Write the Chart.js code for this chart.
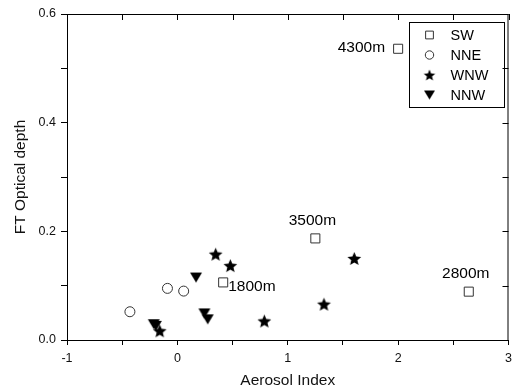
<!DOCTYPE html>
<html>
<head>
<meta charset="utf-8">
<script src="https://cdn.jsdelivr.net/npm/chart.js@4/dist/chart.umd.min.js"></script>
<style>
  body { margin: 0; background: #fff; }
  canvas { display: block; }
</style>
</head>
<body>
<canvas id="myChart" width="513" height="390"></canvas>
<script>
// values
const swX = [2.0, 1.25, 2.64, 0.415]
const swY = [0.536, 0.187, 0.089, 0.106]
const swLabels = ['4300m', '3500m', '2800m', '1800m']
const nneX = [-0.43, -0.09, 0.057]
const nneY = [0.052, 0.095, 0.090]
const wnwX = [0.347, 0.48, 0.788, 1.603, 1.328, -0.16]
const wnwY = [0.158, 0.137, 0.035, 0.150, 0.066, 0.017]
const nnwX = [0.169, 0.245, 0.275, -0.214, -0.195]
const nnwY = [0.115, 0.049, 0.038, 0.029, 0.026]

const seriesNames = ['SW', 'NNE', 'WNW', 'NNW']
const xTicks = [-1, 0, 1, 2, 3]
const yTicks = [0.0, 0.2, 0.4, 0.6]

const FONT = 'Arial, "Liberation Sans", sans-serif'

function toPoints(xs, ys) {
    return xs.map((x, i) => ({ x: x, y: ys[i] }))
}

// filled star marker
function makeStar(r) {
    let c = document.createElement('canvas')
    let s = Math.ceil(r * 2 + 2)
    c.width = s
    c.height = s
    let g = c.getContext('2d')
    g.translate(s / 2, s / 2 + r * 0.1)
    g.beginPath()
    for (let i = 0; i < 10; i++) {
        let rad = i % 2 === 0 ? r : r * 0.45
        let a = -Math.PI / 2 + i * Math.PI / 5
        g.lineTo(rad * Math.cos(a), rad * Math.sin(a))
    }
    g.closePath()
    g.fillStyle = '#000'
    g.fill()
    return c
}

// filled down-pointing triangle
function makeTri(w, h) {
    let c = document.createElement('canvas')
    c.width = w + 2
    c.height = h + 2
    let g = c.getContext('2d')
    g.beginPath()
    g.moveTo(1, 1)
    g.lineTo(w + 1, 1)
    g.lineTo(w / 2 + 1, h + 1)
    g.closePath()
    g.fillStyle = '#000'
    g.fill()
    return c
}

const starImg = makeStar(7.2)
const triImg = makeTri(12, 10)
const starSmall = makeStar(6)
const triSmall = makeTri(11, 9)

const data = {
    datasets: [{
        label: seriesNames[0],
        data: toPoints(swX, swY),
        pointStyle: 'rect',
        pointRadius: 6.4,
        borderColor: '#333',
        backgroundColor: '#fff',
        borderWidth: 1
    }, {
        label: seriesNames[1],
        data: toPoints(nneX, nneY),
        pointStyle: 'circle',
        pointRadius: 5,
        borderColor: '#333',
        backgroundColor: '#fff',
        borderWidth: 1
    }, {
        label: seriesNames[2],
        data: toPoints(wnwX, wnwY),
        pointStyle: starImg,
        pointRadius: 7
    }, {
        label: seriesNames[3],
        data: toPoints(nnwX, nnwY),
        pointStyle: triImg,
        pointRadius: 6
    }]
}

const legendMarks = [
    { style: 'rect', r: 5.5 },
    { style: 'circle', r: 4.2 },
    { style: starSmall, r: 5 },
    { style: triSmall, r: 5 }
]

// label placement next to the SW squares
const labelPlace = ['left', 'above', 'above', 'right']

const framePlugin = {
    id: 'frame',
    afterDraw(chart) {
        let ctx = chart.ctx
        let a = chart.chartArea
        let xs = chart.scales.x
        let ys = chart.scales.y
        ctx.save()
        ctx.strokeStyle = '#000'
        ctx.lineWidth = 1
        ctx.beginPath()
        ctx.moveTo(a.left, a.top + 0.5)
        ctx.lineTo(a.right, a.top + 0.5)
        ctx.moveTo(a.right - 0.5, a.top)
        ctx.lineTo(a.right - 0.5, a.bottom)
        // inward ticks on top and right
        xs.ticks.forEach(t => {
            let px = Math.round(xs.getPixelForValue(t.value)) + 0.5
            ctx.moveTo(px, a.top)
            ctx.lineTo(px, a.top + 6)
        })
        ys.ticks.forEach(t => {
            let py = Math.round(ys.getPixelForValue(t.value)) + 0.5
            ctx.moveTo(a.right, py)
            ctx.lineTo(a.right - 6, py)
        })
        ctx.stroke()

        // altitude labels
        ctx.fillStyle = '#000'
        ctx.font = '15.5px ' + FONT
        ctx.textBaseline = 'middle'
        swLabels.forEach((txt, i) => {
            let px = xs.getPixelForValue(swX[i])
            let py = ys.getPixelForValue(swY[i])
            if (labelPlace[i] === 'left') {
                ctx.textAlign = 'right'
                ctx.fillText(txt, px - 13, py - 1)
            } else if (labelPlace[i] === 'right') {
                ctx.textAlign = 'left'
                ctx.fillText(txt, px + 5, py + 4)
            } else {
                ctx.textAlign = 'center'
                ctx.fillText(txt, px - 3, py - 18)
            }
        })

        // legend box
        let lx = 409.5, ly = 22.5, lw = 95, lh = 85
        ctx.strokeStyle = '#000'
        ctx.strokeRect(lx, ly, lw, lh)
        ctx.font = '14.5px ' + FONT
        ctx.textAlign = 'left'
        chart.data.datasets.forEach((ds, i) => {
            let cy = ly + 12.5 + i * 20
            let m = legendMarks[i]
            ctx.strokeStyle = '#333'
            ctx.fillStyle = '#fff'
            ctx.lineWidth = 1
            Chart.helpers.drawPoint(ctx, { pointStyle: m.style, radius: m.r, borderWidth: 1, rotation: 0 }, lx + 20, cy)
            ctx.fillStyle = '#000'
            ctx.fillText(ds.label, lx + 41, cy + 1)
        })
        ctx.restore()
    }
}

const config = {
    type: 'scatter',
    data: data,
    options: {
        responsive: false,
        animation: false,
        devicePixelRatio: 1,
        layout: { autoPadding: false, padding: { top: 14, right: 4.5, bottom: 0, left: 0 } },
        plugins: { legend: { display: false }, tooltip: { enabled: false } },
        scales: {
            x: {
                type: 'linear',
                min: xTicks[0],
                max: xTicks[xTicks.length - 1],
                afterFit: s => {
                    s.height = 50
                    s.paddingLeft = 0
                    s.paddingRight = 0
                },
                ticks: {
                    stepSize: 0.5,
                    autoSkip: false,
                    maxRotation: 0,
                    padding: 6,
                    color: '#111',
                    font: { family: FONT, size: 12.5 },
                    callback: v => xTicks.includes(v) ? String(v) : ''
                },
                grid: { drawOnChartArea: false, tickLength: 5, color: '#000' },
                border: { color: '#000', width: 1 },
                title: {
                    display: true,
                    text: 'Aerosol Index',
                    color: '#111',
                    font: { family: FONT, size: 15.5 },
                    padding: { top: 0, bottom: 0 }
                }
            },
            y: {
                type: 'linear',
                min: yTicks[0],
                max: yTicks[yTicks.length - 1],
                afterFit: s => { s.width = 67 },
                ticks: {
                    stepSize: 0.1,
                    autoSkip: false,
                    padding: 5,
                    color: '#111',
                    font: { family: FONT, size: 12.5 },
                    callback: v => {
                        let k = Math.round(v * 10)
                        return k % 2 === 0 ? (k / 10).toFixed(1) : ''
                    }
                },
                grid: { drawOnChartArea: false, tickLength: 6, color: '#000' },
                border: { color: '#000', width: 1 },
                title: {
                    display: true,
                    text: 'FT Optical depth',
                    color: '#111',
                    font: { family: FONT, size: 15.5 },
                    padding: { top: 11, bottom: 0 }
                }
            }
        }
    },
    plugins: [framePlugin]
}

const myChart = new Chart(document.getElementById('myChart'), config)
</script>
</body>
</html>
